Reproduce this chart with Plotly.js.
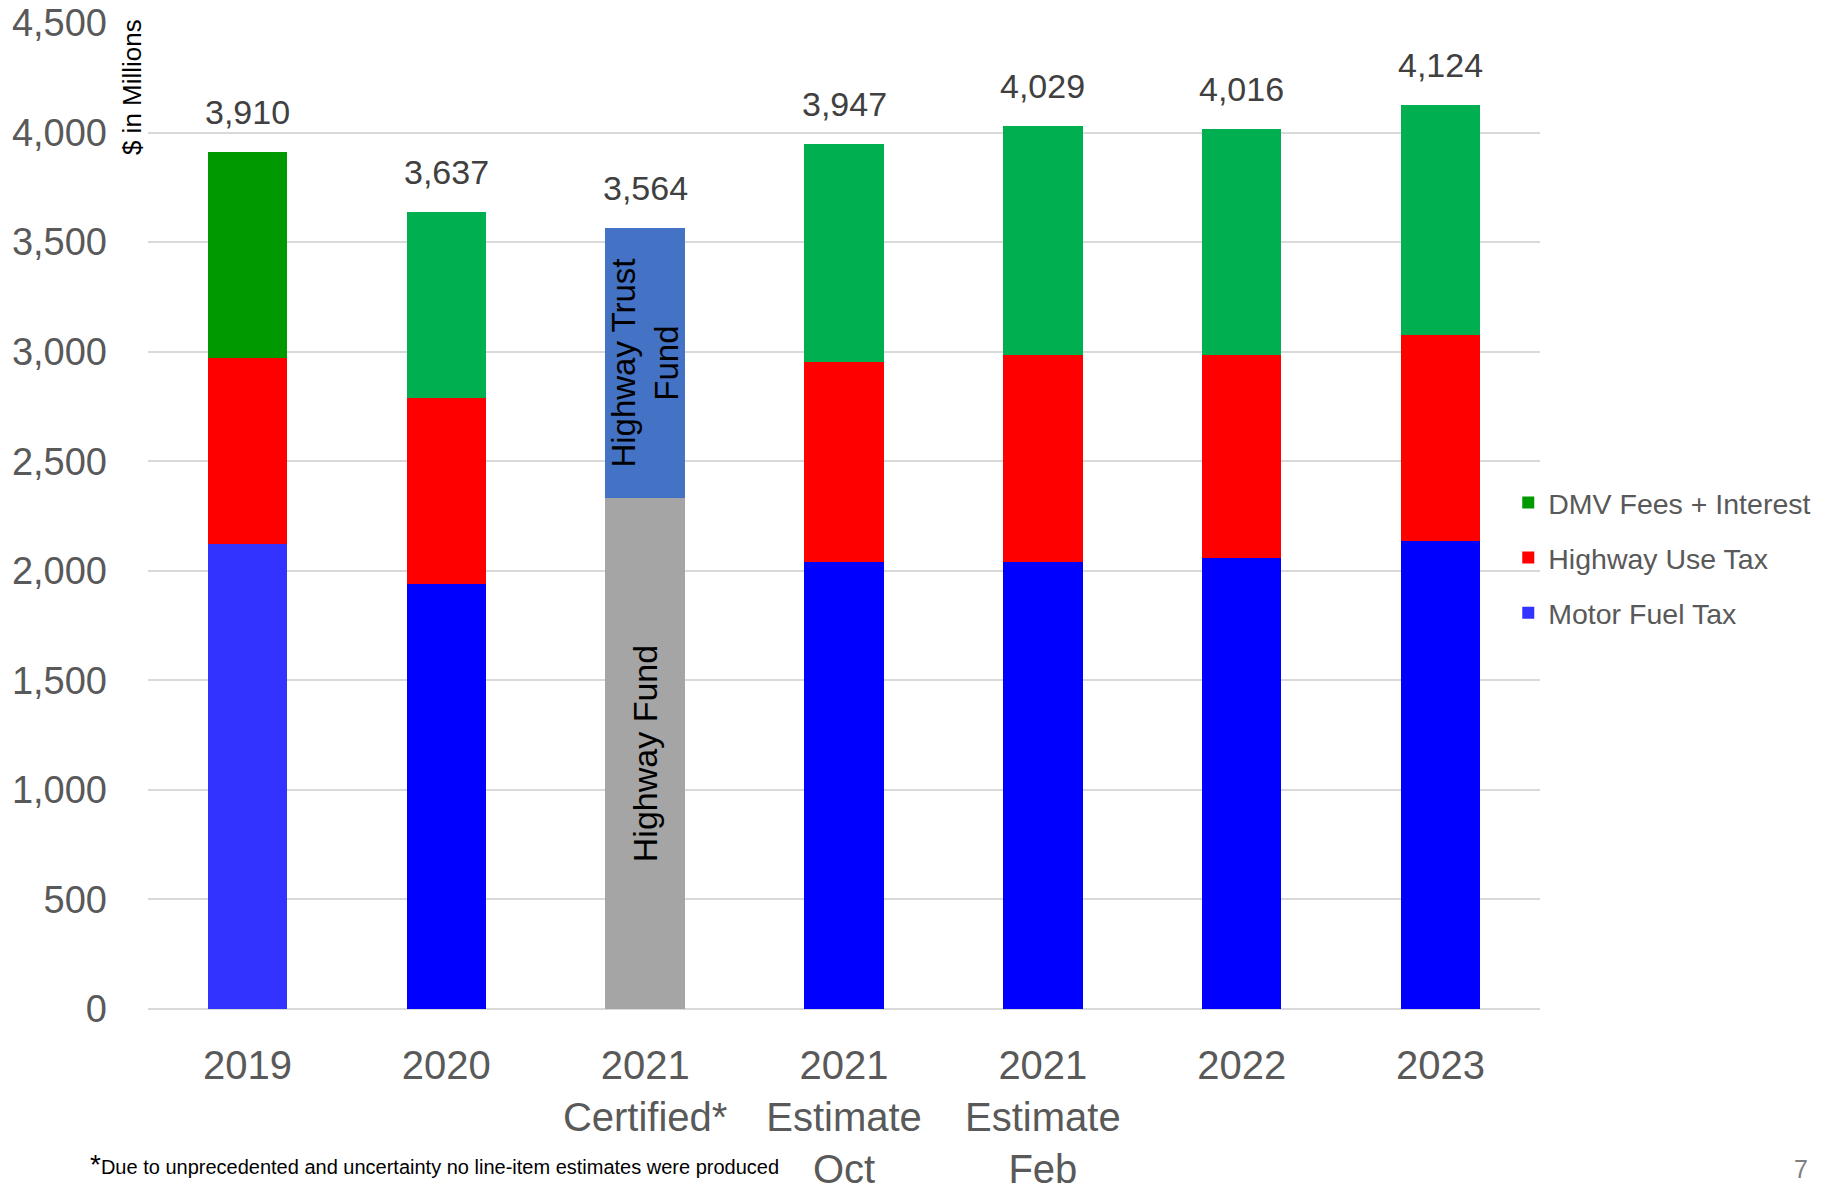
<!DOCTYPE html>
<html>
<head>
<meta charset="utf-8">
<script src="https://cdn.plot.ly/plotly-3.0.1.min.js"></script>
<style>
  html, body { margin: 0; padding: 0; background: #ffffff; }
  #chart { width: 1827px; height: 1184px; }
</style>
</head>
<body>
<div id="chart"></div>
<script>
// ---- Data ($ in millions) ----
const categories = [
  "2019",
  "2020",
  "2021<br>Certified*",
  "2021<br>Estimate<br>Oct",
  "2021<br>Estimate<br>Feb",
  "2022",
  "2023"
];
const motorFuelTax   = [2123, 1941, null, 2041, 2041, 2059, 2135];
const highwayUseTax  = [848, 849, null, 913, 944, 926, 943];
const dmvFeesInterest = [939, 847, null, 993, 1044, 1031, 1046];
const highwayFund      = [null, null, 2332, null, null, null, null];
const highwayTrustFund = [null, null, 1232, null, null, null, null];
const totals = [3910, 3637, 3564, 3947, 4029, 4016, 4124];
const totalLabels = ["3,910", "3,637", "3,564", "3,947", "4,029", "4,016", "4,124"];
const yTickValues = [0, 500, 1000, 1500, 2000, 2500, 3000, 3500, 4000, 4500];

// ---- Styles ----
const FONT = "Liberation Sans, Arial, sans-serif";
const mfColors  = ["#3333FF", "#0000FF", "#0000FF", "#0000FF", "#0000FF", "#0000FF", "#0000FF"];
const hutColors = ["#FF0000", "#FF0000", "#FF0000", "#FF0000", "#FF0000", "#FF0000", "#FF0000"];
const dmvColors = ["#009900", "#00B050", "#00B050", "#00B050", "#00B050", "#00B050", "#00B050"];

const traces = [
  {
    type: "bar", name: "Motor Fuel Tax", x: categories, y: motorFuelTax,
    marker: { color: mfColors }, legendgroup: "mf", legendrank: 3, hoverinfo: "y"
  },
  {
    type: "bar", name: "Highway Use Tax", x: categories, y: highwayUseTax,
    marker: { color: hutColors }, legendgroup: "hut", legendrank: 2, hoverinfo: "y"
  },
  {
    type: "bar", name: "DMV Fees + Interest", x: categories, y: dmvFeesInterest,
    marker: { color: dmvColors }, legendgroup: "dmv", legendrank: 1, hoverinfo: "y"
  },
  {
    type: "bar", name: "Highway Fund", x: categories, y: highwayFund,
    marker: { color: "#A5A5A5" }, showlegend: false, hoverinfo: "y",
    text: highwayFund.map(v => v === null ? "" : "Highway Fund"),
    textposition: "inside", insidetextanchor: "middle", textangle: -90,
    constraintext: "none",
    insidetextfont: { family: FONT, size: 34, color: "#000000" }
  },
  {
    type: "bar", name: "Highway Trust Fund", x: categories, y: highwayTrustFund,
    marker: { color: "#4472C4" }, showlegend: false, hoverinfo: "y",
    text: highwayTrustFund.map(v => v === null ? "" : "Highway Trust<br>Fund"),
    textposition: "inside", insidetextanchor: "middle", textangle: -90,
    constraintext: "none",
    insidetextfont: { family: FONT, size: 33, color: "#000000" }
  }
];

const annotations = categories.map((c, i) => ({
  x: i, y: totals[i], xref: "x", yref: "y",
  text: totalLabels[i], showarrow: false,
  yanchor: "bottom", xanchor: "center", yshift: 19,
  font: { family: FONT, size: 34, color: "#404040" }
}));

annotations.push({
  xref: "paper", yref: "paper", x: -0.0115, y: 0.935,
  text: "$ in Millions", textangle: -90, showarrow: false,
  xanchor: "center", yanchor: "middle",
  font: { family: FONT, size: 26, color: "#000000" }
});
annotations.push({
  xref: "paper", yref: "paper", x: (88 - 148) / 1393, y: (1009 - 1164) / 986,
  text: "<span style='font-size:28px'>*</span>Due to unprecedented and uncertainty no line-item estimates were produced",
  showarrow: false, xanchor: "left", yanchor: "middle",
  font: { family: FONT, size: 20, color: "#000000" }
});
annotations.push({
  xref: "paper", yref: "paper", x: (1802 - 148) / 1393, y: (1009 - 1169) / 986,
  text: "7", showarrow: false, xanchor: "center", yanchor: "middle",
  font: { family: FONT, size: 25, color: "#7F7F7F" }
});

const layout = {
  width: 1827, height: 1184,
  margin: { l: 148, r: 286, t: 23, b: 175 },
  paper_bgcolor: "#ffffff", plot_bgcolor: "#ffffff",
  barmode: "stack", bargap: 0.6,
  showlegend: true,
  legend: {
    x: 0.9765, y: 0.539, xanchor: "left", yanchor: "top",
    traceorder: "grouped", tracegroupgap: 15,
    font: { family: FONT, size: 28.5, color: "#595959" },
    bgcolor: "rgba(0,0,0,0)"
  },
  xaxis: {
    type: "category", range: [-0.5, 6.5], autorange: false,
    showgrid: false, zeroline: false, showline: false,
    ticks: "", ticklabelstandoff: 29,
    tickfont: { family: FONT, size: 40, color: "#595959" }
  },
  yaxis: {
    range: [0, 4500], autorange: false, tickvals: yTickValues, tickformat: ",d",
    showgrid: true, gridcolor: "#D9D9D9", gridwidth: 2,
    zeroline: true, zerolinecolor: "#D9D9D9", zerolinewidth: 2,
    showline: false, ticks: "", ticklabelstandoff: 40,
    tickfont: { family: FONT, size: 38, color: "#595959" }
  },
  annotations: annotations
};

Plotly.newPlot("chart", traces, layout, { displayModeBar: false, staticPlot: true });
</script>
</body>
</html>
